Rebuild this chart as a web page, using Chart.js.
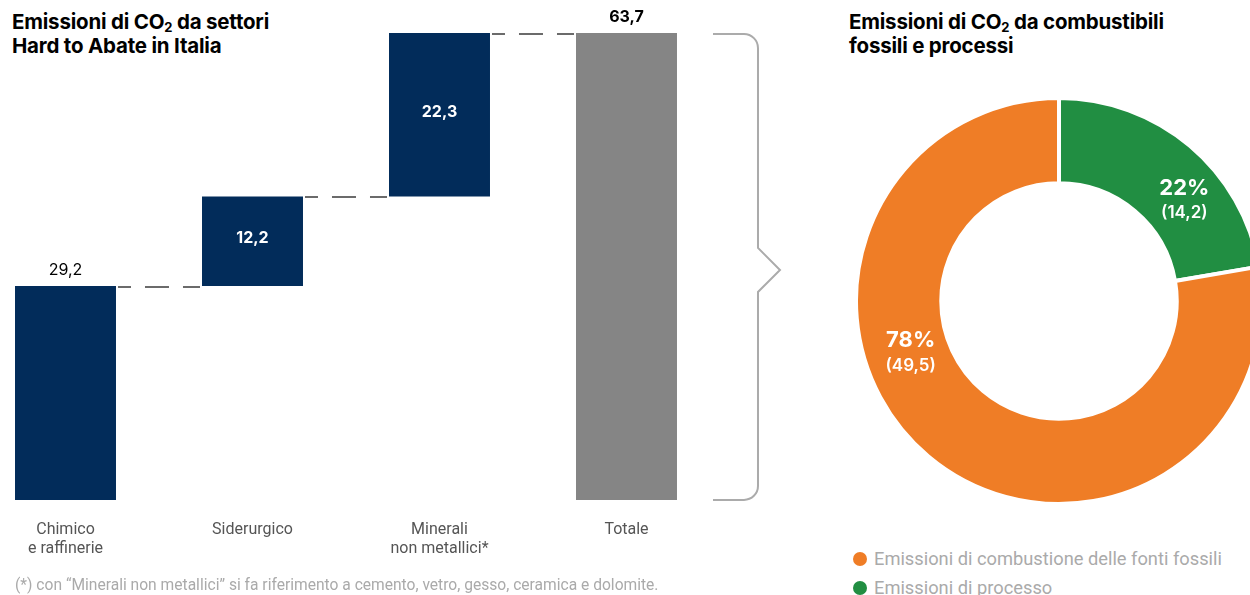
<!DOCTYPE html>
<html>
<head>
<meta charset="utf-8">
<script src="https://cdn.jsdelivr.net/npm/chart.js@4.4.1/dist/chart.umd.min.js"></script>
<style>
  html, body { margin: 0; padding: 0; background: #fff; }
  body { width: 1250px; height: 595px; position: relative; overflow: hidden; font-family: Roboto, "Noto Sans", sans-serif; }
  .title { position: absolute; top: 10px; font-family: Inter, Roboto, sans-serif; font-weight: 700; font-size: 20.5px; line-height: 24px; color: #000; letter-spacing: -0.2px; }
  .title sub { font-size: 13px; vertical-align: -3px; line-height: 0; }
  #barWrap { position: absolute; left: -28px; top: 0; width: 828px; height: 585px; }
  #pieWrap { position: absolute; left: 854px; top: 96px; width: 410px; height: 410px; }
  .note { position: absolute; left: 15px; top: 576px; font-size: 15.6px; color: #aaa; }
  #legend { position: absolute; left: 853px; top: 544px; font-size: 18.3px; color: #aaa; line-height: 29px; }
  #legend span.dot { display: inline-block; width: 14px; height: 14px; border-radius: 50%; margin-right: 7px; vertical-align: -1px; }
</style>
</head>
<body>
<div class="title" style="left:12px">Emissioni di CO<sub>2</sub> da settori<br>Hard to Abate in Italia</div>
<div class="title" style="left:849px">Emissioni di CO<sub>2</sub> da combustibili<br>fossili e processi</div>
<div id="barWrap"><canvas id="barChart"></canvas></div>
<div id="pieWrap"><canvas id="pieChart"></canvas></div>
<div class="note">(*) con “Minerali non metallici” si fa riferimento a cemento, vetro, gesso, ceramica e dolomite.</div>
<div id="legend"></div>
<script>
// waterfall data
const sectors = [['Chimico', 'e raffinerie'], 'Siderurgico', ['Minerali', 'non metallici*'], 'Totale'];
const sectorValues = [29.2, 12.2, 22.3];
const totalValue = 63.7;
const barColors = ['#022c5a', '#022c5a', '#022c5a', '#858585'];

// doughnut data
const sources = ['Emissioni di processo', 'Emissioni di combustione delle fonti fossili'];
const sourceValues = [14.2, 49.5];
const sourceColors = ['#218e42', '#ef7d26'];

function fmt(v) { return v.toFixed(1).replace('.', ','); }

// build floating ranges
const ranges = [];
let run = 0;
sectorValues.forEach(v => { ranges.push([run, run + v]); run += v; });
ranges.push([0, totalValue]);
const shown = sectorValues.concat([totalValue]);

const waterfallPlugin = {
  id: 'waterfall',
  afterDatasetsDraw(chart) {
    const ctx = chart.ctx;
    const bars = chart.getDatasetMeta(0).data;
    const y = chart.scales.y;
    ctx.save();
    // connectors
    ctx.strokeStyle = '#6b6b6b';
    ctx.lineWidth = 2;
    ctx.setLineDash([24, 14]);
    for (let i = 0; i < bars.length - 1; i++) {
      const a = bars[i], b = bars[i + 1];
      const yy = Math.round(y.getPixelForValue(ranges[i][1])) + 1;
      ctx.lineDashOffset = 11;
      ctx.beginPath();
      ctx.moveTo(a.x + a.width / 2 + 2, yy);
      ctx.lineTo(b.x - b.width / 2 - 2, yy);
      ctx.stroke();
    }
    ctx.setLineDash([]);
    // value labels
    ctx.textAlign = 'center';
    ctx.textBaseline = 'middle';
    bars.forEach((bar, i) => {
      const top = y.getPixelForValue(ranges[i][1]);
      const bot = y.getPixelForValue(ranges[i][0]);
      if (ranges[i][0] > 0) {
        ctx.fillStyle = '#fff';
        ctx.font = '700 16px Inter, Roboto, sans-serif';
        ctx.fillText(fmt(shown[i]), bar.x, (top + bot) / 2 - 3);
      } else {
        ctx.fillStyle = '#000';
        ctx.font = (i === bars.length - 1 ? '700 ' : '400 ') + '16px Inter, Roboto, sans-serif';
        ctx.fillText(fmt(shown[i]), bar.x, top - 16);
      }
    });
    // brace
    const last = bars[bars.length - 1];
    const yt = y.getPixelForValue(totalValue) + 1;
    const yb = y.getPixelForValue(0);
    const x0 = last.x + last.width / 2 + 36;
    const xv = x0 + 45, r = 14;
    const ym = (yt + yb) / 2 + 3;
    ctx.strokeStyle = '#ababab';
    ctx.lineWidth = 2;
    ctx.beginPath();
    ctx.moveTo(x0, yt);
    ctx.lineTo(xv - r, yt);
    ctx.arcTo(xv, yt, xv, yt + r, r);
    ctx.lineTo(xv, ym - 22);
    ctx.lineTo(xv + 22, ym);
    ctx.lineTo(xv, ym + 22);
    ctx.lineTo(xv, yb - r);
    ctx.arcTo(xv, yb, xv - r, yb, r);
    ctx.lineTo(x0, yb);
    ctx.stroke();
    ctx.restore();
  }
};

new Chart(document.getElementById('barChart'), {
  type: 'bar',
  data: {
    labels: sectors,
    datasets: [{ data: ranges, backgroundColor: barColors, borderSkipped: false, categoryPercentage: 1, barPercentage: 0.54 }]
  },
  options: {
    responsive: true,
    maintainAspectRatio: false,
    animation: false,
    layout: { padding: { top: 33, right: 80, bottom: 5, left: 0 } },
    plugins: { legend: { display: false }, tooltip: { enabled: false } },
    scales: {
      x: {
        grid: { display: false, drawTicks: false },
        border: { display: false },
        ticks: { color: '#555', font: { family: 'Roboto', size: 16, lineHeight: 1.19 }, padding: 21, maxRotation: 0, autoSkip: false }
      },
      y: { display: false, min: 0, max: totalValue }
    }
  },
  plugins: [waterfallPlugin]
});

const sum = sourceValues.reduce((a, b) => a + b, 0);
const pieLabelOffsets = [[22, 22], [-45, -71]];
const pieLabelPlugin = {
  id: 'pieLabels',
  afterDatasetsDraw(chart) {
    const ctx = chart.ctx;
    const arcs = chart.getDatasetMeta(0).data;
    ctx.save();
    ctx.fillStyle = '#fff';
    ctx.textAlign = 'center';
    ctx.textBaseline = 'middle';
    arcs.forEach((arc, i) => {
      const c = arc.getCenterPoint();
      const x = c.x + pieLabelOffsets[i][0], yy = c.y + pieLabelOffsets[i][1];
      ctx.font = '700 22px Inter, Roboto, sans-serif';
      ctx.fillText(Math.round(sourceValues[i] / sum * 100) + '%', x, yy - 12);
      ctx.font = '600 17px Inter, Roboto, sans-serif';
      ctx.fillText('(' + fmt(sourceValues[i]) + ')', x, yy + 13);
    });
    ctx.restore();
  }
};

new Chart(document.getElementById('pieChart'), {
  type: 'doughnut',
  data: {
    labels: sources,
    datasets: [{ data: sourceValues, backgroundColor: sourceColors, borderColor: '#fff', borderWidth: 4 }]
  },
  options: {
    responsive: true,
    maintainAspectRatio: false,
    animation: false,
    cutout: '58%',
    plugins: { legend: { display: false }, tooltip: { enabled: false } }
  },
  plugins: [pieLabelPlugin]
});

// legend (orange first, as in the reference)
const legend = document.getElementById('legend');
[1, 0].forEach(i => {
  const row = document.createElement('div');
  row.innerHTML = '<span class="dot" style="background:' + sourceColors[i] + '"></span>' + sources[i];
  legend.appendChild(row);
});
</script>
</body>
</html>
